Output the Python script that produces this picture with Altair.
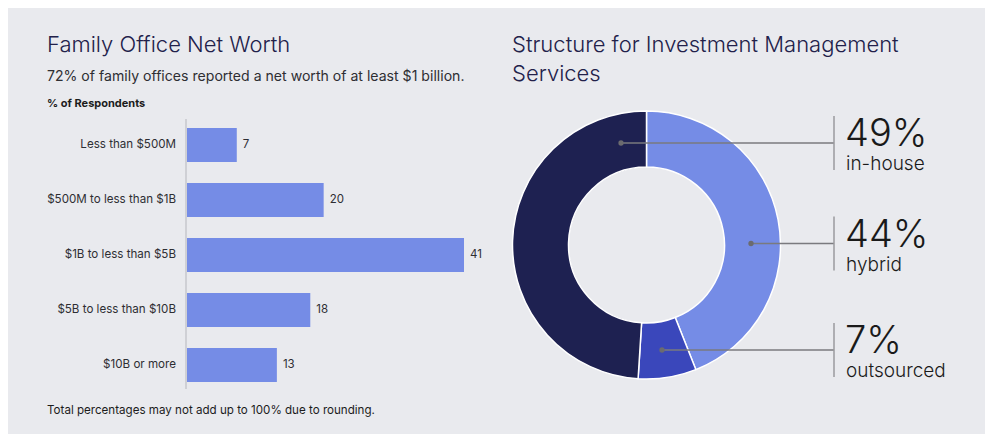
import altair as alt
import pandas as pd

# ---- data ----
bar_cats = ["Less than $500M", "$500M to less than $1B", "$1B to less than $5B",
            "$5B to less than $10B", "$10B or more"]
bar_vals = [7, 20, 41, 18, 13]

donut_cats = ["hybrid", "outsourced", "in-house"]
donut_vals = [44, 7, 49]
donut_order = [1, 2, 3]
donut_colors = ["#758ce6", "#3a47bb", "#1e2151"]
donut_pct_text = ["44%", "7%", "49%"]

FONT = "Inter"
BG = "#e9eaee"
TXT = "#2e2e33"
NAVY = "#22214a"

W, H = 977, 426
def px(v):  # page coordinate -> plot coordinate
    return v - 8

bars_df = pd.DataFrame({"cat": bar_cats, "value": bar_vals})
donut_df = pd.DataFrame({"cat": donut_cats, "value": donut_vals, "order": donut_order})
one = pd.DataFrame({"a": [0]})

yscale = alt.Scale(domain=bar_cats, range=[px(117.5), px(392.5)], paddingInner=0.38, paddingOuter=0.19)
xscale = alt.Scale(domain=[0, 41], range=[px(190), px(464)])

base_bar = alt.Chart(bars_df)
bars = base_bar.mark_bar(color="#758ce6").encode(
    y=alt.Y("cat:N", sort=bar_cats, scale=yscale, axis=None),
    x=alt.X("value:Q", scale=xscale, axis=None, stack=None),
    x2=alt.value(px(187)),
)
val_labels = base_bar.mark_text(align="left", baseline="middle", dx=6, font=FONT, fontSize=11.5, color=TXT).encode(
    y=alt.Y("cat:N", sort=bar_cats, scale=yscale, axis=None),
    x=alt.X("value:Q", scale=xscale, axis=None),
    text="value:Q",
)
cat_labels = base_bar.mark_text(align="right", baseline="middle", font=FONT, fontSize=11.6, color=TXT).encode(
    y=alt.Y("cat:N", sort=bar_cats, scale=yscale, axis=None),
    x=alt.value(px(176)),
    text="cat:N",
)
axis_line = alt.Chart(one).mark_rule(color="#c6c7cc", strokeWidth=1.5).encode(
    x=alt.value(px(186)), y=alt.value(px(119)), y2=alt.value(px(389))
)

def txt(s, x, y, size, color=TXT, weight="normal", align="left"):
    return alt.Chart(one).mark_text(
        text=s, align=align, baseline="alphabetic", font=FONT, fontSize=size,
        color=color, fontWeight=weight
    ).encode(x=alt.value(px(x)), y=alt.value(px(y)))

texts = [
    txt("Family Office Net Worth", 47, 52, 22, NAVY, 300),
    txt("72% of family offices reported a net worth of at least $1 billion.", 47, 81, 14.1, TXT),
    txt("% of Respondents", 47, 107, 11, "#1c1c1c", "bold"),
    txt("Total percentages may not add up to 100% due to rounding.", 47, 414, 11.6, "#1c1c1c"),
    txt("Structure for Investment Management", 512, 52, 22, NAVY, 300),
    txt("Services", 512, 81, 22, NAVY, 300),
]

CX, CY = 646.5, 245
donut = alt.Chart(donut_df).mark_arc(stroke="white", strokeWidth=1.5).encode(
    theta=alt.Theta("value:Q", stack=True),
    order=alt.Order("order:Q"),
    color=alt.Color("cat:N", scale=alt.Scale(domain=donut_cats, range=donut_colors), legend=None),
    x=alt.value(px(CX)), y=alt.value(px(CY)),
    radius=alt.value(134), radius2=alt.value(78),
)

# leader annotations: (dot x, line y) per category
ann = {"in-house": (621, 143), "hybrid": (751, 243.5), "outsourced": (662, 350)}
ann_layers = []
for cat, pct in zip(donut_cats, donut_pct_text):
    dx, ly = ann[cat]
    ann_layers.append(alt.Chart(one).mark_rule(color="#7a7a7e", strokeWidth=1.3).encode(
        x=alt.value(px(dx)), x2=alt.value(px(834)), y=alt.value(px(ly))))
    ann_layers.append(alt.Chart(one).mark_rule(color="#9a9a9e", strokeWidth=1.5).encode(
        x=alt.value(px(834)), y=alt.value(px(ly - 27)), y2=alt.value(px(ly + 27))))
    ann_layers.append(alt.Chart(one).mark_circle(color="#6b6b6f", size=28, opacity=1).encode(
        x=alt.value(px(dx)), y=alt.value(px(ly))))
    ann_layers.append(txt(pct, 845, ly + 3, 38, "#1a1a1a", 300))
    ann_layers.append(txt(cat, 846, ly + 27, 19, "#1a1a1a", 300))

chart = alt.layer(
    axis_line, bars, val_labels, cat_labels, donut, *ann_layers, *texts
).properties(
    width=W, height=H, autosize=alt.AutoSizeParams(type="none"), padding=0,
    background=BG,
).configure_view(stroke=None)

chart.save("out.html", embed_options={"renderer": "svg", "actions": False})
